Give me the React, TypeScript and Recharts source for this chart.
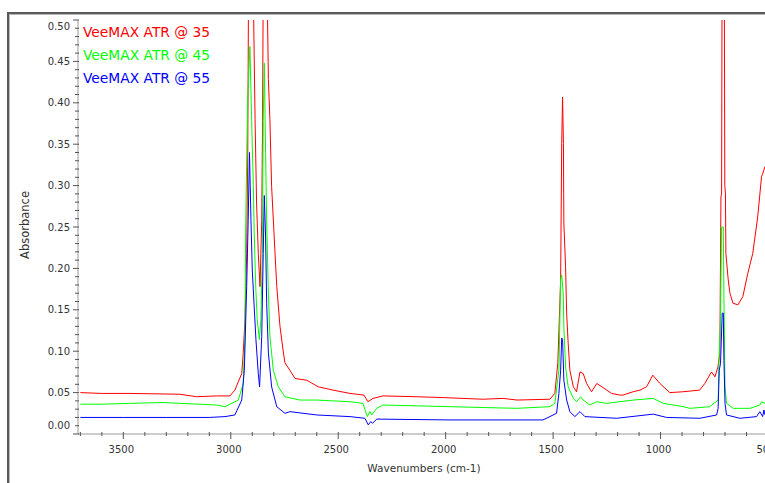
import React from 'react';
import { LineChart, Line, XAxis, YAxis, Legend } from 'recharts';

// [wavenumber (cm-1), absorbance]
const red35: [number, number][] = [
  [3700, 0.05], [3600, 0.049], [3469, 0.049], [3236, 0.048], [3159, 0.045],
  [3066, 0.046], [3004, 0.046], [2981, 0.053], [2965, 0.063], [2949, 0.073],
  [2942, 0.098], [2934, 0.138], [2926, 0.218], [2921, 0.339], [2916, 0.62],
  [2910, 0.8], [2902, 0.74], [2896, 0.55], [2887, 0.38], [2880, 0.279],
  [2872, 0.218], [2864, 0.178], [2856, 0.258], [2852, 0.379], [2849, 0.55],
  [2843, 0.72], [2836, 0.66], [2830, 0.52], [2825, 0.428], [2818, 0.38],
  [2810, 0.299], [2798, 0.238], [2786, 0.178], [2771, 0.13], [2756, 0.1],
  [2748, 0.086], [2725, 0.077], [2701, 0.067], [2647, 0.065], [2593, 0.057],
  [2524, 0.053], [2445, 0.049], [2380, 0.047], [2362, 0.039], [2338, 0.043],
  [2292, 0.046], [2135, 0.045], [2013, 0.044], [1827, 0.042], [1733, 0.043],
  [1668, 0.041], [1515, 0.042], [1492, 0.049], [1478, 0.086], [1465, 0.186],
  [1460, 0.351], [1456, 0.407], [1452, 0.351], [1450, 0.255], [1442, 0.202],
  [1437, 0.146], [1430, 0.11], [1422, 0.077], [1406, 0.057], [1391, 0.051],
  [1375, 0.075], [1360, 0.073], [1344, 0.061], [1321, 0.051], [1297, 0.061],
  [1267, 0.056], [1228, 0.049], [1189, 0.047], [1175, 0.047], [1128, 0.051],
  [1096, 0.053], [1065, 0.057], [1036, 0.071], [1003, 0.061], [957, 0.05],
  [896, 0.051], [818, 0.053], [794, 0.061], [763, 0.075], [747, 0.069],
  [733, 0.081], [724, 0.098], [719, 0.287], [716, 0.29], [713, 0.62],
  [704, 0.62], [701, 0.3], [698, 0.29], [696, 0.218], [685, 0.186],
  [677, 0.17], [663, 0.158], [640, 0.156], [617, 0.166], [594, 0.194],
  [571, 0.218], [548, 0.262], [530, 0.311], [524, 0.315], [514, 0.323],
  [500, 0.326],
];

const green45: [number, number][] = [
  [3700, 0.036], [3600, 0.036], [3470, 0.037], [3315, 0.038], [3150, 0.036],
  [3066, 0.035], [3027, 0.033], [2965, 0.041], [2942, 0.061], [2934, 0.118],
  [2931, 0.243], [2922, 0.4], [2911, 0.468], [2903, 0.379], [2895, 0.299],
  [2891, 0.243], [2884, 0.178], [2877, 0.138], [2867, 0.114], [2860, 0.138],
  [2853, 0.218], [2849, 0.379], [2844, 0.448], [2838, 0.339], [2833, 0.258],
  [2826, 0.178], [2818, 0.118], [2802, 0.077], [2779, 0.057], [2748, 0.045],
  [2678, 0.041], [2600, 0.041], [2445, 0.039], [2385, 0.037], [2365, 0.021],
  [2352, 0.027], [2344, 0.023], [2321, 0.031], [2292, 0.035], [2135, 0.034],
  [1980, 0.033], [1827, 0.032], [1670, 0.031], [1515, 0.033], [1492, 0.037],
  [1473, 0.077], [1465, 0.186], [1460, 0.192], [1453, 0.17], [1450, 0.13],
  [1442, 0.081], [1430, 0.057], [1406, 0.043], [1391, 0.039], [1372, 0.045],
  [1360, 0.041], [1329, 0.035], [1297, 0.039], [1251, 0.037], [1189, 0.039],
  [1127, 0.041], [1034, 0.043], [988, 0.037], [894, 0.033], [864, 0.031],
  [771, 0.033], [732, 0.041], [727, 0.098], [721, 0.138], [716, 0.25],
  [708, 0.25], [705, 0.162], [700, 0.057], [693, 0.037], [662, 0.031],
  [584, 0.031], [538, 0.035], [530, 0.039], [514, 0.037], [500, 0.038],
];

const blue55: [number, number][] = [
  [3700, 0.02], [3500, 0.02], [3300, 0.02], [3100, 0.02], [3027, 0.021],
  [2981, 0.023], [2949, 0.041], [2937, 0.077], [2926, 0.178], [2919, 0.258],
  [2913, 0.34], [2906, 0.258], [2900, 0.198], [2892, 0.158], [2883, 0.114],
  [2872, 0.073], [2866, 0.057], [2856, 0.118], [2849, 0.218], [2844, 0.288],
  [2838, 0.238], [2833, 0.158], [2825, 0.098], [2810, 0.057], [2786, 0.033],
  [2748, 0.025], [2725, 0.027], [2600, 0.023], [2445, 0.021], [2376, 0.019],
  [2360, 0.011], [2349, 0.015], [2340, 0.013], [2321, 0.018], [1980, 0.017],
  [1547, 0.017], [1484, 0.025], [1473, 0.049], [1465, 0.077], [1460, 0.116],
  [1456, 0.114], [1450, 0.065], [1437, 0.041], [1422, 0.027], [1399, 0.021],
  [1375, 0.027], [1352, 0.021], [1204, 0.019], [1034, 0.024], [972, 0.02],
  [817, 0.019], [739, 0.023], [732, 0.031], [727, 0.077], [721, 0.085],
  [713, 0.146], [708, 0.146], [705, 0.089], [700, 0.037], [693, 0.023],
  [631, 0.019], [553, 0.021], [538, 0.027], [525, 0.021], [519, 0.029],
  [514, 0.023], [500, 0.025],
];

const SERIES = [
  { name: 'VeeMAX ATR @ 35', color: '#ff0000', values: red35 },
  { name: 'VeeMAX ATR @ 45', color: '#00ff00', values: green45 },
  { name: 'VeeMAX ATR @ 55', color: '#0000ff', values: blue55 },
];

const X_LABELS = [3500, 3000, 2500, 2000, 1500, 1000, 500];
const Y_LABELS = [0, 0.05, 0.1, 0.15, 0.2, 0.25, 0.3, 0.35, 0.4, 0.45, 0.5];

// minor ticks every 100 cm-1 and every 0.01
const X_TICKS = Array.from({ length: 33 }, (_, i) => 500 + i * 100);
const Y_TICKS = Array.from({ length: 51 }, (_, i) => +(i * 0.01).toFixed(2));

const FONT = '"DejaVu Sans", Verdana, sans-serif';
const TICK_COLOR = '#555';

const near = (v: number, list: number[]) => list.some((m) => Math.abs(m - v) < 1e-6);

function YTick(props: any) {
  const { x, y, payload } = props;
  const v = payload.value as number;
  const major = near(v, Y_LABELS);
  // edge labels are pushed inside the axis, as in the original plot
  let ly = y;
  if (Math.abs(v) < 1e-6) ly = y - 9;
  if (Math.abs(v - 0.5) < 1e-6) ly = y + 6;
  return (
    <g>
      <line x1={x - (major ? 5 : 3)} x2={x + 1} y1={y} y2={y} stroke={TICK_COLOR} />
      {major && (
        <text x={x - 8} y={ly} dy={3.6} textAnchor="end" fontFamily={FONT} fontSize={10} fill="#333">
          {v.toFixed(2)}
        </text>
      )}
    </g>
  );
}

function XTick(props: any) {
  const { x, y, payload } = props;
  const v = payload.value as number;
  const major = near(v, X_LABELS);
  return (
    <g>
      <line x1={x} x2={x} y1={y - 2} y2={y + (major ? 5 : 2)} stroke={TICK_COLOR} />
      {major && (
        <text x={x - 2} y={y + 19} textAnchor="middle" fontFamily={FONT} fontSize={10} fill="#333">
          {v}
        </text>
      )}
    </g>
  );
}

const YTitle = (props: any) => {
  const vb = props.viewBox || { x: 0, y: 20, width: 78, height: 414 };
  const cx = vb.x + 29;
  const cy = vb.y + vb.height / 2 - 2;
  return (
    <text x={cx} y={cy} transform={`rotate(-90 ${cx} ${cy})`} textAnchor="middle" fontFamily={FONT} fontSize={11.5} fill="#333">
      Absorbance
    </text>
  );
};

const XTitle = (props: any) => {
  const vb = props.viewBox || { x: 78, y: 434, width: 690, height: 49 };
  return (
    <text x={vb.x + vb.width / 2 + 1} y={vb.y + 38} textAnchor="middle" fontFamily={FONT} fontSize={10.5} fill="#333">
      Wavenumbers (cm-1)
    </text>
  );
};

const LegendBox = () => (
  <div style={{ fontFamily: FONT, fontSize: 13.8 }}>
    {SERIES.map((s) => (
      <div key={s.name} style={{ color: s.color, lineHeight: '23px', whiteSpace: 'nowrap' }}>
        {s.name}
      </div>
    ))}
  </div>
);

export default function App() {
  return (
    <div style={{ position: 'relative', width: 765, height: 483, overflow: 'hidden', background: '#fff' }}>
      <style>{'body{margin:0}'}</style>
      <div
        style={{
          position: 'absolute',
          left: 7,
          top: 12,
          width: 800,
          height: 500,
          borderTop: '2px solid #5a5a5a',
          borderLeft: '2px solid #5a5a5a',
          boxShadow: 'inset 1px 1px 0 #b8b8b8',
        }}
      />
      <div style={{ position: 'absolute', left: 0, top: 0 }}>
        <LineChart width={768} height={483} margin={{ top: 20, right: 0, bottom: 0, left: 0 }}>
          <XAxis
            type="number"
            dataKey="wn"
            domain={[500, 3711]}
            reversed
            allowDataOverflow
            ticks={X_TICKS}
            interval={0}
            tickSize={0}
            tickMargin={0}
            tickLine={false}
            tick={(p: any) => <XTick {...p} />}
            axisLine={{ stroke: '#999' }}
            height={49}
            label={XTitle}
          />
          <YAxis
            type="number"
            domain={[0, 0.5]}
            allowDataOverflow
            ticks={Y_TICKS}
            interval={0}
            tickSize={0}
            tickMargin={0}
            tickLine={false}
            tick={(p: any) => <YTick {...p} />}
            axisLine={{ stroke: '#999' }}
            width={78}
            label={YTitle}
          />
          <Legend
            layout="vertical"
            align="center"
            verticalAlign="middle"
            wrapperStyle={{ left: 83, top: 21, width: 'auto', height: 'auto' }}
            content={LegendBox}
          />
          {SERIES.map((s) => (
            <Line
              key={s.name}
              name={s.name}
              data={s.values.map(([wn, abs]) => ({ wn, abs }))}
              dataKey="abs"
              type="linear"
              stroke={s.color}
              strokeWidth={1}
              dot={false}
              activeDot={false}
              isAnimationActive={false}
            />
          ))}
        </LineChart>
      </div>
    </div>
  );
}
